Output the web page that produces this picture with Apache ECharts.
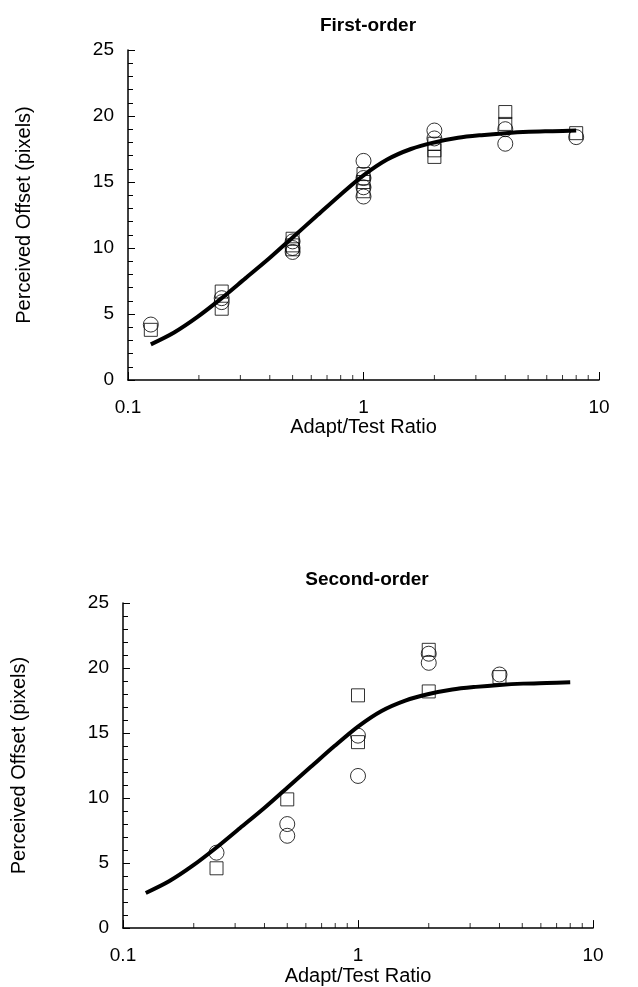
<!DOCTYPE html>
<html>
<head>
<meta charset="utf-8">
<script src="https://cdn.jsdelivr.net/npm/echarts@6/dist/echarts.min.js"></script>
<style>
  html, body { margin: 0; padding: 0; background: #fff; }
  #chart { width: 638px; height: 987px; }
</style>
</head>
<body>
<div id="chart"></div>
<script>
// Adapt/Test ratios and perceived offsets (pixels)
const titles = ['First-order', 'Second-order'];
const xTickLabels = ['0.1', '1', '10'];
const yTicks = [0, 5, 10, 15, 20, 25];

// First-order observers: circles and squares
const firstCircles = [
  [0.125, 4.2],
  [0.25, 6.2], [0.25, 5.9],
  [0.5, 10.5], [0.5, 10.0], [0.5, 9.7],
  [1, 16.6], [1, 15.3], [1, 14.6], [1, 13.9],
  [2, 18.9], [2, 18.3],
  [4, 19.0], [4, 17.9],
  [8, 18.4]
];
const firstSquares = [
  [0.125, 3.8],
  [0.25, 6.7], [0.25, 5.4],
  [0.5, 10.7], [0.5, 10.2], [0.5, 9.9],
  [1, 15.6], [1, 15.0], [1, 14.3],
  [2, 17.9], [2, 17.4], [2, 16.9],
  [4, 20.3], [4, 19.4],
  [8, 18.7]
];

// Second-order observers
const secondCircles = [
  [0.25, 5.8],
  [0.5, 8.0], [0.5, 7.1],
  [1, 14.8], [1, 11.7],
  [2, 21.1], [2, 20.4],
  [4, 19.5]
];
const secondSquares = [
  [0.25, 4.6],
  [0.5, 9.9],
  [1, 17.9], [1, 14.3],
  [2, 21.4], [2, 18.2],
  [4, 19.3]
];

// Fitted curve (same in both panels)
const fitX = [0.125, 0.157, 0.198, 0.25, 0.315, 0.397, 0.5, 0.63, 0.794, 1.0, 1.26, 1.59, 2.0, 2.52, 3.17, 4.0, 5.04, 6.35, 8.0];
const fitY = [2.7, 3.6, 4.8, 6.2, 7.7, 9.2, 10.8, 12.4, 14.0, 15.5, 16.7, 17.5, 18.0, 18.35, 18.55, 18.7, 18.8, 18.85, 18.9];

// Minor log ticks along the ratio axis
const xMinorTicks = [0.2, 0.3, 0.4, 0.5, 0.6, 0.7, 0.8, 0.9, 2, 3, 4, 5, 6, 7, 8, 9];

const fitData = fitX.map((x, i) => [x, fitY[i]]);
const FONT = '"Liberation Sans", Arial, Helvetica, sans-serif';

const grids = [
  { left: 128, top: 50, width: 471, height: 330 },
  { left: 123, top: 603, width: 470, height: 329 }
];

function xAxisFor(i) {
  return {
    type: 'log', logBase: 10, gridIndex: i, min: 0.1, max: 10,
    name: 'Adapt/Test Ratio', nameLocation: 'middle', nameGap: 35,
    nameTextStyle: { fontFamily: FONT, fontSize: 20, color: '#000' },
    axisLine: { lineStyle: { color: '#000', width: 1.5 } },
    axisTick: { inside: true, length: 8, lineStyle: { color: '#000', width: 1 } },
    minorTick: { show: false },
    splitLine: { show: false },
    axisLabel: {
      margin: 18, fontFamily: FONT, fontSize: 19, color: '#000',
      formatter: v => xTickLabels.find(t => Math.abs(parseFloat(t) - v) < 1e-9) || ''
    }
  };
}

function yAxisFor(i) {
  return {
    type: 'value', gridIndex: i, min: yTicks[0], max: yTicks[yTicks.length - 1], interval: 5,
    name: 'Perceived Offset (pixels)', nameLocation: 'middle', nameGap: 94,
    nameTextStyle: { fontFamily: FONT, fontSize: 20, color: '#000' },
    axisLine: { show: true, lineStyle: { color: '#000', width: 1.5 } },
    axisTick: { inside: true, length: 7, lineStyle: { color: '#000', width: 1 } },
    minorTick: { show: true, splitNumber: 5, length: 5, lineStyle: { color: '#000', width: 1 } },
    splitLine: { show: false },
    axisLabel: { margin: 14, fontFamily: FONT, fontSize: 19, color: '#000' }
  };
}

function panelSeries(i, circles, squares) {
  return [
    {
      type: 'scatter', xAxisIndex: i, yAxisIndex: i, silent: true, clip: false,
      symbol: 'rect', symbolSize: [1, 5], symbolOffset: [0, -2.5],
      itemStyle: { color: '#000' },
      data: xMinorTicks.map(x => [x, 0]), z: 5
    },
    {
      type: 'line', xAxisIndex: i, yAxisIndex: i, silent: true,
      data: fitData, smooth: 0.3, showSymbol: false, symbol: 'none',
      lineStyle: { color: '#000', width: 4 }, z: 3
    },
    {
      type: 'scatter', xAxisIndex: i, yAxisIndex: i, silent: true,
      symbol: 'circle', symbolSize: 15,
      itemStyle: { color: 'rgba(255,255,255,0)', borderColor: '#000', borderWidth: 1 },
      data: circles, z: 4
    },
    {
      type: 'scatter', xAxisIndex: i, yAxisIndex: i, silent: true,
      symbol: 'rect', symbolSize: 13,
      itemStyle: { color: 'rgba(255,255,255,0)', borderColor: '#000', borderWidth: 1 },
      data: squares, z: 4
    }
  ];
}

const chart = echarts.init(document.getElementById('chart'), null, { renderer: 'canvas' });
chart.setOption({
  animation: false,
  backgroundColor: '#fff',
  title: [
    { text: titles[0], left: 363, top: 11, textAlign: 'center',
      textStyle: { fontFamily: FONT, fontSize: 19, fontWeight: 'bold', color: '#000' } },
    { text: titles[1], left: 362, top: 565, textAlign: 'center',
      textStyle: { fontFamily: FONT, fontSize: 19, fontWeight: 'bold', color: '#000' } }
  ],
  grid: grids,
  xAxis: [xAxisFor(0), xAxisFor(1)],
  yAxis: [yAxisFor(0), yAxisFor(1)],
  series: [
    ...panelSeries(0, firstCircles, firstSquares),
    ...panelSeries(1, secondCircles, secondSquares)
  ]
});
</script>
</body>
</html>
